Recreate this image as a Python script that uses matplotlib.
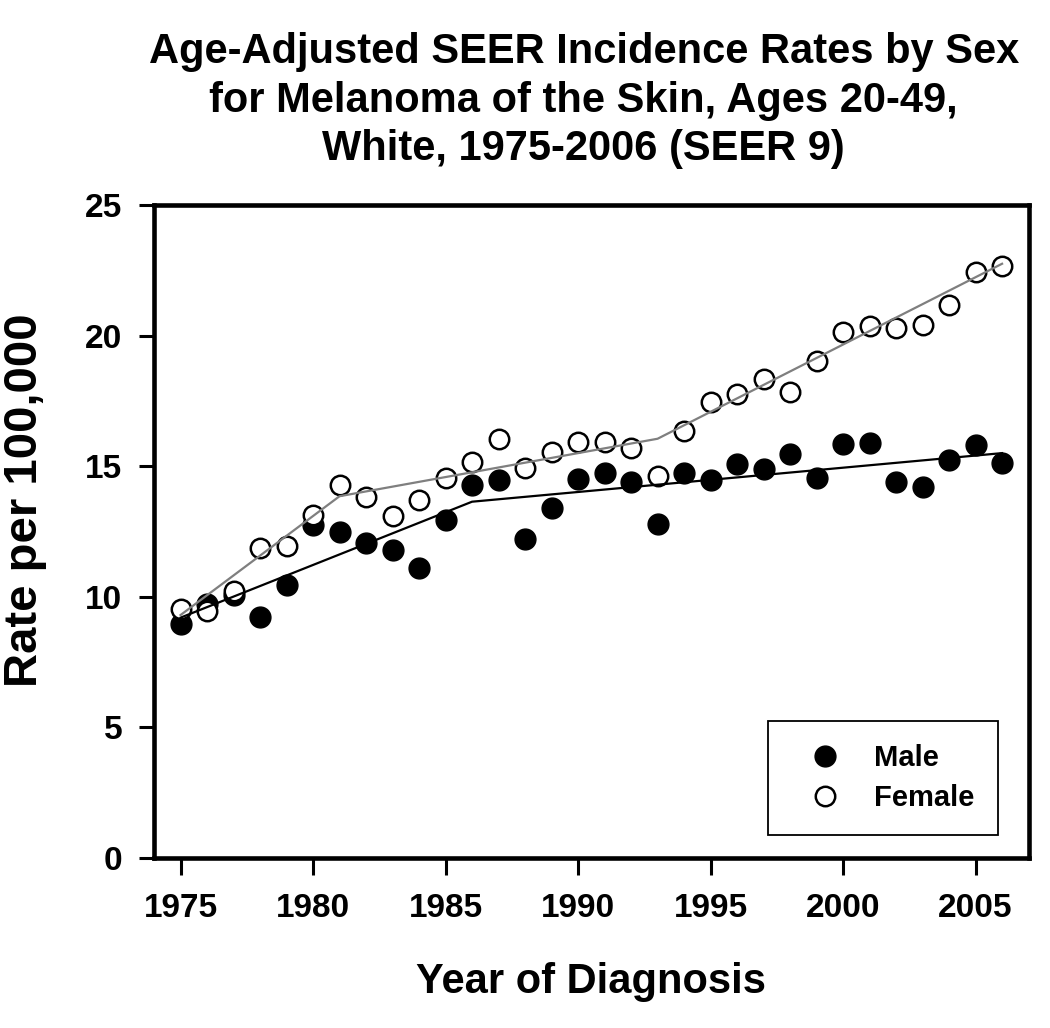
import matplotlib
matplotlib.use("Agg")
import matplotlib.pyplot as plt

# data
years = list(range(1975, 2007))
male = [8.95, 9.72, 10.07, 9.21, 10.45, 12.75, 12.49, 12.05, 11.79, 11.11,
        12.94, 14.28, 14.47, 12.21, 13.39, 14.50, 14.73, 14.41, 12.79, 14.73,
        14.47, 15.08, 14.88, 15.47, 14.54, 15.85, 15.88, 14.41, 14.22, 15.24,
        15.81, 15.11]
female = [9.52, 9.46, 10.22, 11.88, 11.94, 13.13, 14.27, 13.81, 13.09, 13.71,
          14.54, 15.17, 16.03, 14.92, 15.56, 15.94, 15.94, 15.71, 14.62, 16.36,
          17.47, 17.75, 18.35, 17.83, 19.04, 20.15, 20.37, 20.28, 20.41, 21.17,
          22.45, 22.66]

# joinpoint trend lines (vertices)
male_fit_years = [1975, 1986, 2006]
male_fit = [9.2, 13.64, 15.5]
female_fit_years = [1975, 1981, 1993, 2006]
female_fit = [9.3, 13.85, 16.05, 22.75]

plt.rcParams['font.family'] = ['Liberation Sans', 'DejaVu Sans']
plt.rcParams['font.weight'] = 'bold'

fig = plt.figure(figsize=(10.5, 10.28), dpi=100)
ax = fig.add_axes([0.1467, 0.1654, 0.8329, 0.6352])

ax.plot(years, male, 'o', color='black', markersize=15, markeredgewidth=1,
        linestyle='none', label='Male')
ax.plot(years, female, 'o', markerfacecolor='white', markeredgecolor='black',
        markersize=14, markeredgewidth=1.8, linestyle='none', label='Female')
ax.plot(male_fit_years, male_fit, color='black', lw=1.6)
ax.plot(female_fit_years, female_fit, color='#7f7f7f', lw=1.6)

ax.set_xlim(1974, 2007)
ax.set_ylim(0, 25)
ax.set_xticks(range(1975, 2006, 5))
ax.set_yticks(range(0, 26, 5))

for s in ax.spines.values():
    s.set_linewidth(3.3)
ax.tick_params(axis='x', direction='out', length=12, width=2.2, pad=13,
               labelsize=24)
ax.tick_params(axis='y', direction='out', length=11, width=2.2, pad=12,
               labelsize=24)

ax.set_xlabel('Year of Diagnosis', fontsize=30, fontweight='bold')
ax.set_ylabel('Rate per 100,000', fontsize=34, fontweight='bold')
ax.xaxis.set_label_coords(0.5, -0.16)
ax.yaxis.set_label_coords(-0.122, 0.548)

fig.suptitle('Age-Adjusted SEER Incidence Rates by Sex\n'
             'for Melanoma of the Skin, Ages 20-49,\n'
             'White, 1975-2006 (SEER 9)',
             x=0.556, y=0.969, va='top', fontsize=30, fontweight='bold',
             linespacing=1.28)

leg = ax.legend(loc='lower right', bbox_to_anchor=(0.965, 0.035),
                borderaxespad=0, fontsize=21, frameon=True, fancybox=False,
                framealpha=1, edgecolor='black', borderpad=0.8,
                labelspacing=0.4, handlelength=2.3, handletextpad=0.55,
                markerscale=1.0)
leg.get_frame().set_linewidth(1.3)

fig.savefig('out.png', dpi=100)
